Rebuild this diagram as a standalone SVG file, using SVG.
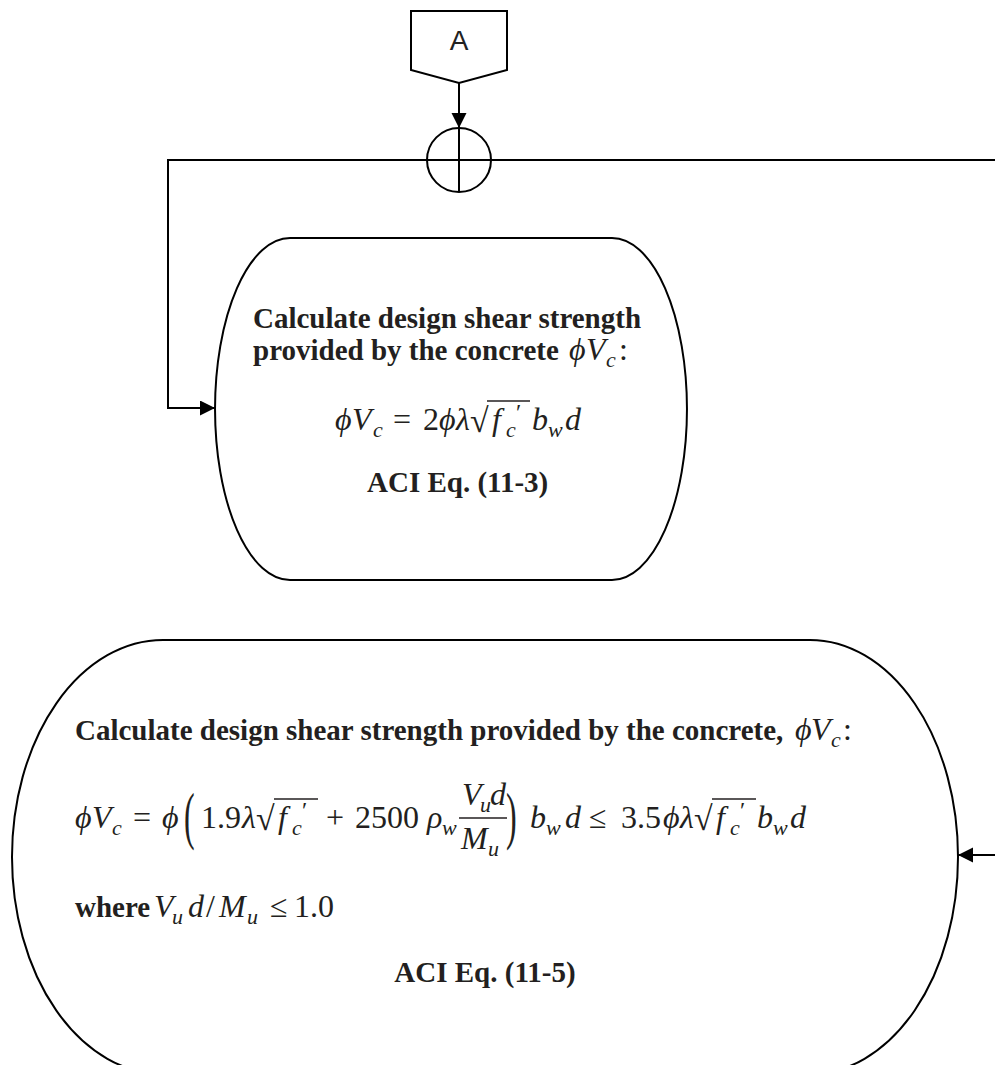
<svg xmlns="http://www.w3.org/2000/svg" width="995" height="1065" viewBox="0 0 995 1065">
<style>
.shape{fill:#ffffff;stroke:#000000;stroke-width:2}
.ln{fill:none;stroke:#000000;stroke-width:2}
.vin{fill:none;stroke:#231f20;stroke-width:1.6}
.b{font-family:"Liberation Serif",serif;font-weight:bold;font-size:29px;fill:#231f20}
.m{font-family:"Liberation Serif","DejaVu Serif",serif;font-size:32px;fill:#231f20}
.i{font-style:italic}
.s{font-size:22px}
.p{font-size:24px}
.lab{font-family:"Liberation Sans",Arial,sans-serif;font-size:28px;fill:#222222}
</style>
<defs>
<marker id="ah" markerWidth="16" markerHeight="16" refX="15" refY="7.5" orient="auto" markerUnits="userSpaceOnUse">
<path d="M0,0 L15,7.5 L0,15 Z" fill="#000000"/>
</marker>
</defs>
<rect width="995" height="1065" fill="#ffffff"/>
<g id="connectors">
<line class="ln" x1="459" y1="83" x2="459" y2="128" marker-end="url(#ah)"/>
<line class="ln" x1="995" y1="160" x2="491" y2="160"/>
<polyline class="ln" points="427,160 168,160 168,408 215,408" marker-end="url(#ah)"/>
<line class="ln" x1="995" y1="855" x2="958" y2="855" marker-end="url(#ah)"/>
</g>
<g id="offpage-A">
<polygon class="shape" points="411,11 507,11 507,70 459,83 411,70"/>
<text class="lab" x="459" y="50" text-anchor="middle">A</text>
</g>
<g id="junction">
<circle class="shape" cx="459" cy="160" r="32"/>
<line class="ln" x1="427" y1="160" x2="491" y2="160"/>
<line class="ln" x1="459" y1="128" x2="459" y2="192"/>
</g>
<g id="node1">
<path class="shape" d="M290,238 H612 A75,171 0 0 1 612,580 H290 A75,171 0 0 1 290,238 Z"/>
<text class="b" x="253" y="328">Calculate design shear strength</text>
<text class="b" x="253" y="360">provided by the concrete </text>
<text class="m"><tspan class="i" x="569" y="360">ϕ</tspan><tspan class="i" x="586" y="360">V</tspan><tspan class="i s" x="606" y="367">c</tspan><tspan x="619" y="360">:</tspan></text>
<text class="m"><tspan class="i" x="335" y="430">ϕ</tspan><tspan class="i" x="352" y="430">V</tspan><tspan class="i s" x="373" y="437">c</tspan><tspan x="393" y="430">=</tspan><tspan x="423" y="430">2</tspan><tspan class="i" x="439" y="430">ϕ</tspan><tspan class="i" x="456" y="430">λ</tspan><tspan x="470" y="432" font-size="34">√</tspan><tspan class="i" x="492" y="430">f</tspan><tspan class="i s" x="506" y="437">c</tspan><tspan class="p" x="516" y="420">′</tspan><tspan class="i" x="532" y="430">b</tspan><tspan class="i s" x="548" y="437">w</tspan><tspan class="i" x="565" y="430">d</tspan></text>
<line class="vin" x1="487" y1="401" x2="530" y2="401"/>
<text class="b" x="367" y="492">ACI Eq. (11-3)</text>
</g>
<g id="node2">
<path class="shape" d="M163,640 H810 A148,217 0 0 1 810,1074 H163 A151,217 0 0 1 163,640 Z"/>
<text class="b" x="75" y="740">Calculate design shear strength provided by the concrete, </text>
<text class="m"><tspan class="i" x="795" y="740">ϕ</tspan><tspan class="i" x="811" y="740">V</tspan><tspan class="i s" x="831" y="747">c</tspan><tspan x="843" y="740">:</tspan></text>
<text class="m"><tspan class="i" x="75" y="828">ϕ</tspan><tspan class="i" x="92" y="828">V</tspan><tspan class="i s" x="112" y="835">c</tspan><tspan x="133" y="828">=</tspan><tspan class="i" x="162" y="828">ϕ</tspan><tspan x="201" y="828">1.9</tspan><tspan class="i" x="242" y="828">λ</tspan><tspan x="256" y="830" font-size="34">√</tspan><tspan class="i" x="278" y="828">f</tspan><tspan class="i s" x="292" y="835">c</tspan><tspan class="p" x="302" y="818">′</tspan><tspan x="326" y="828">+</tspan><tspan x="355" y="828">2500</tspan><tspan class="i" x="427" y="828">ρ</tspan><tspan class="i s" x="442" y="835">w</tspan><tspan class="i" x="462" y="805">V</tspan><tspan class="i s" x="480" y="812">u</tspan><tspan class="i" x="490" y="805">d</tspan><tspan class="i" x="461" y="849">M</tspan><tspan class="i s" x="488" y="856">u</tspan><tspan class="i" x="530" y="828">b</tspan><tspan class="i s" x="546" y="835">w</tspan><tspan class="i" x="565" y="828">d</tspan><tspan x="589" y="828">≤</tspan><tspan x="621" y="828">3.5</tspan><tspan class="i" x="663" y="828">ϕ</tspan><tspan class="i" x="680" y="828">λ</tspan><tspan x="694" y="830" font-size="34">√</tspan><tspan class="i" x="716" y="828">f</tspan><tspan class="i s" x="730" y="835">c</tspan><tspan class="p" x="740" y="818">′</tspan><tspan class="i" x="757" y="828">b</tspan><tspan class="i s" x="773" y="835">w</tspan><tspan class="i" x="790" y="828">d</tspan></text>
<text class="m" transform="translate(184,837) scale(1,2)" font-size="36">(</text>
<text class="m" transform="translate(506,837) scale(1,2)" font-size="36">)</text>
<line class="vin" x1="459" y1="818" x2="507" y2="818"/>
<line class="vin" x1="274" y1="799" x2="318" y2="799"/>
<line class="vin" x1="712" y1="799" x2="756" y2="799"/>
<text class="b" x="75" y="917">where</text>
<text class="m"><tspan class="i" x="154" y="917">V</tspan><tspan class="i s" x="172" y="924">u</tspan><tspan class="i" x="188" y="917">d</tspan><tspan x="206" y="917">/</tspan><tspan class="i" x="219" y="917">M</tspan><tspan class="i s" x="247" y="924">u</tspan><tspan x="270" y="917">≤</tspan><tspan x="294" y="917">1.0</tspan></text>
<text class="b" x="485" y="982" text-anchor="middle">ACI Eq. (11-5)</text>
</g>
</svg>
